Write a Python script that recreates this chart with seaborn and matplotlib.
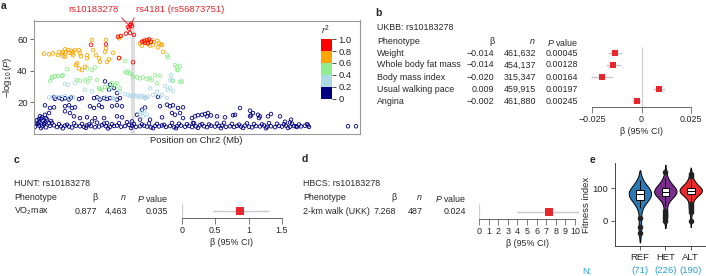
import numpy as np
import pandas as pd
import matplotlib
matplotlib.use('Agg')
import matplotlib.pyplot as plt
import matplotlib.cm as cm
from matplotlib.colors import ListedColormap, BoundaryNorm
import seaborn as sns

sns.set_style('ticks')
plt.rcParams['font.family'] = ['Liberation Sans', 'DejaVu Sans']
plt.rcParams['mathtext.fontset'] = 'custom'
plt.rcParams['mathtext.rm'] = 'Liberation Sans'
plt.rcParams['mathtext.it'] = 'Liberation Sans:italic'
plt.rcParams['mathtext.bf'] = 'Liberation Sans:bold'

# ---------------- data: panel a (position in kb, -log10 P) ----------------
ld_bins = ['0-0.2', '0.2-0.4', '0.4-0.6', '0.6-0.8', '0.8-1.0']
ld_colors = ['#000080', '#add8e6', '#90ee90', '#ffa500', '#ff0000']
r2_bounds = [0, 0.2, 0.4, 0.6, 0.8, 1.0]
r2_ticklabels = ['0', '0.2', '0.4', '0.6', '0.8', '1.0']

snps_r2_hi = [(27694, 67.6), (27696, 68.9), (27697, 69.5), (27698, 68.3), (27695, 66.5), (27696, 63.8),
              (27700, 62.7), (27687, 62.0), (27692, 63.5), (27684, 61.5), (27699, 45.3), (27672, 56.6),
              (27657, 56.4), (27708, 58.3), (27710, 59.0), (27713, 59.4), (27715, 59.8), (27717, 58.3),
              (27714, 57.3), (27711, 57.7), (27685, 48.0)]
snps_r2_06 = [(27610, 50.7), (27615, 50.3), (27619, 50.9), (27624, 49.8), (27625, 51.6), (27628, 50.9),
              (27629, 51.9), (27631, 53.5), (27632, 51.9), (27634, 53.0), (27635, 51.3), (27637, 52.6),
              (27638, 50.9), (27639, 51.9), (27641, 53.0), (27639, 49.8), (27629, 49.2), (27631, 48.8),
              (27645, 53.0), (27646, 50.9), (27647, 49.2), (27643, 44.6), (27642, 43.5), (27645, 41.4),
              (27648, 40.3), (27651, 42.4), (27653, 47.8), (27653, 49.8), (27659, 53.0), (27658, 59.4),
              (27662, 49.8), (27665, 47.8), (27666, 45.6), (27672, 59.4), (27672, 54.1), (27671, 51.9),
              (27673, 45.6), (27675, 47.1), (27679, 51.3), (27685, 60.5), (27686, 61.5), (27685, 47.8),
              (27706, 57.3), (27709, 57.9), (27711, 58.9), (27713, 57.3), (27715, 58.3), (27718, 59.4),
              (27720, 57.9), (27723, 58.9), (27725, 57.3), (27728, 56.2), (27729, 51.9), (27724, 54.7),
              (27719, 56.2), (27716, 55.8), (27708, 55.8), (27727, 56.6)]
snps_r2_04 = [(27616, 33.3), (27618, 36.0), (27621, 36.5), (27624, 36.5), (27628, 36.5), (27629, 37.1),
              (27643, 34.0), (27646, 33.5), (27651, 34.0), (27633, 40.8), (27653, 41.4), (27658, 40.3),
              (27654, 32.9), (27663, 34.0), (27666, 28.1), (27671, 29.7), (27676, 29.3), (27679, 30.2),
              (27683, 31.9), (27686, 28.7), (27691, 46.0), (27691, 39.2), (27693, 38.6), (27694, 39.5),
              (27696, 38.2), (27698, 37.5), (27699, 36.0), (27703, 35.7), (27706, 35.0), (27709, 35.7),
              (27713, 34.6), (27718, 34.0), (27721, 37.1), (27723, 31.9), (27733, 49.8), (27734, 48.4),
              (27741, 43.5), (27743, 42.4), (27744, 40.3), (27746, 32.9), (27748, 33.1), (27739, 33.3),
              (27726, 36.7), (27716, 35.2), (27743, 40.5), (27746, 42.7), (27618, 35.2), (27621, 36.3),
              (27656, 35.2), (27665, 28.9), (27668, 27.8), (27678, 32.1), (27681, 31.0), (27661, 42.0)]
snps_r2_02 = [(27615, 23.0), (27619, 23.5), (27623, 22.8), (27627, 23.3), (27631, 23.8), (27635, 22.5),
              (27639, 23.0), (27641, 32.3), (27634, 30.8), (27631, 31.5), (27666, 22.4), (27672, 23.0),
              (27679, 22.6), (27676, 27.6), (27686, 26.5), (27694, 24.5), (27696, 24.0), (27698, 23.5),
              (27700, 24.5), (27702, 23.5), (27704, 24.0), (27706, 23.0), (27708, 24.0), (27710, 23.3),
              (27712, 22.7), (27714, 23.5), (27716, 28.7), (27723, 26.5), (27726, 23.4), (27733, 22.5),
              (27734, 27.6), (27736, 34.0), (27737, 37.1), (27738, 34.2), (27731, 30.0), (27736, 28.9),
              (27739, 26.8), (27711, 22.5), (27719, 24.6), (27728, 24.6), (27706, 12.8), (27709, 10.9),
              (27713, 12.0), (27708, 13.5), (27710, 14.5), (27651, 27.8), (27658, 26.8), (27680, 21.9),
              (27691, 25.0)]
snps_r2_00 = [(27671, 33.1), (27676, 31.0), (27680, 28.9), (27675, 27.8), (27683, 25.7),
              (27620, 23.0), (27621, 22.0), (27625, 22.6), (27628, 21.8), (27631, 22.4), (27635, 21.6), (27637, 22.8),
              (27645, 21.9), (27648, 22.5), (27660, 22.5), (27663, 23.0), (27666, 21.5), (27670, 22.5), (27673, 21.9),
              (27676, 22.5), (27683, 21.5), (27686, 22.5),
              (27611, 17.9), (27616, 16.2), (27620, 16.6), (27631, 17.3), (27635, 17.9), (27638, 16.2), (27641, 16.6),
              (27656, 17.3), (27660, 16.2), (27665, 17.9), (27668, 16.8), (27678, 17.3), (27683, 17.9), (27688, 17.3),
              (27631, 14.1), (27636, 13.0), (27640, 10.9), (27646, 9.8), (27653, 10.3), (27661, 9.8), (27670, 9.8),
              (27683, 10.9), (27688, 10.3),
              (27608, 10.3), (27611, 11.9), (27615, 13.0), (27605, 9.2), (27603, 8.5), (27605, 7.0), (27607, 9.5),
              (27609, 8.0), (27611, 7.0), (27613, 9.0), (27615, 6.5), (27617, 8.0), (27604, 6.2), (27610, 6.5),
              (27606, 11.0), (27612, 9.8),
              (27658, 7.7), (27673, 6.7), (27698, 7.7), (27706, 8.8), (27703, 11.9),
              (27726, 17.3), (27733, 18.3), (27736, 17.3), (27739, 17.9), (27744, 16.2), (27749, 16.6), (27724, 23.2),
              (27708, 15.1), (27711, 16.5),
              (27738, 13.0), (27741, 11.9), (27746, 13.0), (27749, 9.8), (27728, 10.3), (27716, 8.8), (27758, 9.8),
              (27761, 10.9), (27764, 11.6), (27768, 11.9), (27771, 12.4), (27774, 13.0), (27773, 10.9), (27777, 11.5),
              (27783, 10.9), (27791, 10.3), (27799, 11.6), (27806, 16.2), (27801, 11.9), (27816, 10.9), (27759, 6.7),
              (27816, 14.5), (27819, 13.0), (27817, 11.5), (27824, 11.9), (27826, 10.9), (27825, 9.8), (27834, 10.9),
              (27837, 12.4), (27846, 10.9), (27857, 8.8), (27851, 7.5), (27856, 7.0), (27862, 4.6), (27874, 5.2),
              (27914, 4.6), (27922, 4.6),
              (27601, 4.3), (27605, 5.0), (27608, 4.6), (27612, 3.9), (27616, 4.8), (27620, 5.2), (27623, 4.1),
              (27627, 4.5), (27631, 5.0), (27635, 4.4), (27638, 3.8), (27642, 4.9), (27646, 4.6), (27650, 4.2),
              (27653, 5.1), (27657, 4.7), (27661, 4.0), (27665, 4.4), (27668, 5.3), (27672, 4.6), (27676, 4.1),
              (27680, 4.8), (27683, 5.0), (27687, 4.3), (27691, 4.7), (27695, 5.5), (27698, 4.9), (27702, 4.2),
              (27706, 4.6), (27710, 5.0), (27713, 4.4), (27717, 3.9), (27721, 4.8), (27725, 4.5), (27728, 5.1),
              (27732, 4.2), (27736, 4.7), (27740, 4.0), (27743, 4.6), (27747, 5.0), (27751, 4.3), (27755, 4.8),
              (27758, 4.1), (27762, 4.5), (27766, 5.2), (27770, 4.6), (27773, 4.0), (27777, 4.9), (27781, 4.4),
              (27785, 4.7), (27788, 5.0), (27792, 4.2), (27796, 4.6), (27800, 4.1), (27803, 4.8), (27807, 4.4),
              (27811, 5.0), (27815, 4.3), (27818, 3.9), (27822, 4.7), (27826, 4.5), (27830, 5.1), (27833, 4.2),
              (27837, 4.6), (27841, 4.0), (27845, 4.8), (27848, 4.4), (27852, 5.0), (27856, 4.3), (27860, 4.7),
              (27863, 4.1), (27867, 4.5), (27871, 4.9), (27875, 4.2),
              (27603, 6.2), (27610, 5.8), (27618, 6.8), (27625, 6.0), (27633, 5.6), (27640, 6.5), (27648, 6.1),
              (27655, 5.7), (27663, 6.9), (27670, 6.3), (27678, 5.9), (27685, 6.6), (27693, 7.2), (27700, 6.0),
              (27708, 5.8), (27715, 6.4), (27723, 6.1), (27730, 5.5), (27738, 6.7), (27745, 6.2), (27753, 5.9),
              (27760, 6.5), (27768, 6.0), (27775, 5.7), (27783, 6.3), (27790, 6.8), (27798, 6.1), (27805, 5.6),
              (27813, 6.4), (27820, 6.0), (27828, 5.8), (27835, 6.6), (27843, 6.2), (27850, 5.9), (27858, 6.3),
              (27865, 5.7), (27873, 6.0),
              (27607, 3.4), (27629, 3.3), (27652, 3.6), (27674, 3.2), (27697, 3.5), (27719, 3.4), (27742, 3.3),
              (27764, 3.6), (27787, 3.4), (27809, 3.5), (27832, 3.3), (27854, 3.5)]
lead_snp_kb = (27696, 68.9)
lead_band_kb = (27697, 27701)

# ---------------- data: panel b ----------------
b_title = 'UKBB: rs10183278'
b_pheno = ['Weight', 'Whole body fat mass', 'Body mass index', 'Usual walking pace', 'Angina']
b_beta = [-0.0134, -0.0142, -0.0198, 0.0088, -0.0024]
b_beta_txt = ['\u22120.014', '\u22120.014', '\u22120.020', '0.009', '\u22120.002']
b_n = ['461,632', '454,137', '315,347', '459,915', '461,880']
b_p = ['0.00045', '0.00128', '0.00164', '0.00197', '0.00245']
b_lo = [-0.0170, -0.0180, -0.0255, 0.0058, -0.0050]
b_hi = [-0.0100, -0.0102, -0.0145, 0.0118, -0.0003]
b_ticks = [-0.025, 0, 0.025]
b_ticklabels = ['\u22120.025', '0', '0.025']

# ---------------- data: panel c ----------------
c_title = 'HUNT: rs10183278'
c_pheno = ['VO$_2$max']
c_beta = [0.877]
c_beta_txt = ['0.877']
c_n = ['4,463']
c_p = ['0.035']
c_lo = [0.47]
c_hi = [1.30]
c_ticks = [0, 0.5, 1, 1.5]
c_ticklabels = ['0', '0.5', '1', '1.5']

# ---------------- data: panel d ----------------
d_title = 'HBCS: rs10183278'
d_pheno = ['2-km walk (UKK)']
d_beta = [7.268]
d_beta_txt = ['7.268']
d_n = ['487']
d_p = ['0.024']
d_lo = [3.95]
d_hi = [10.45]
d_ticks = [0, 1, 2, 3, 4, 5, 6, 7, 8, 9, 10]
d_ticklabels = [str(t) for t in d_ticks]

# ---------------- data: panel e ----------------
e_groups = ['REF', 'HET', 'ALT']
e_counts = ['(71)', '(226)', '(190)']
e_colors = ['#2a7ab8', '#7b2d8e', '#ee2a2a']
fit_ref = [-38, -18, 8, 39, 50, 58, 63, 66, 68, 71, 74, 77, 79, 81, 82, 83, 85, 87, 89, 91, 93,
           95, 97, 99, 104, 110, 118, 127]
fit_het = [0, 8, 15, 22, 29, 44, 55, 62, 67, 71, 74, 76, 78, 79, 81, 82, 83, 84, 85, 86, 87, 88,
           89, 90, 91, 92, 93, 94, 95, 96, 98, 99, 100, 102, 104, 106, 108, 111, 114, 118, 122, 127,
           133, 150]
fit_alt = [0, 28, 34, 40, 46, 52, 62, 70, 75, 78, 81, 83, 84, 85, 86, 87, 88, 89, 90, 91, 91, 92,
           92, 93, 94, 95, 96, 97, 98, 99, 100, 100, 101, 102, 104, 106, 109, 112, 116, 120, 124,
           127, 137, 144]

# ---------------- layout helpers ----------------
W, H = 706, 276
fig = plt.figure(figsize=(W / 100, H / 100), dpi=100)


def rect(l, t, r, b):
    return [l / W, 1 - b / H, (r - l) / W, (b - t) / H]


def fxy(x, y):
    return (x / W, 1 - y / H)


FS = 6.4
FA = 6.8
RED = '#e8262d'
CI_GREY = '#c8c8c8'

# ---------------- panel a ----------------
axA = fig.add_axes(rect(34, 20.5, 359.5, 133.5))
groups = [snps_r2_00, snps_r2_02, snps_r2_04, snps_r2_06, snps_r2_hi]
rows = []
for lbl, pts in zip(ld_bins, groups):
    for kb, lp in pts:
        rows.append((kb / 1000.0, lp, lbl))
dfA = pd.DataFrame(rows, columns=['pos', 'logp', 'r2'])
axA.axvspan(lead_band_kb[0] / 1000.0, lead_band_kb[1] / 1000.0, color='#dedede', lw=0, zorder=0)
sns.scatterplot(data=dfA, x='pos', y='logp', hue='r2', hue_order=ld_bins, palette=ld_colors,
                s=6.5, linewidth=0.6, legend=False, ax=axA, zorder=2)
coll = axA.collections[-1]
fc = coll.get_facecolors()
coll.set_edgecolors(fc)
coll.set_facecolors('none')
axA.set_xlim(27.600, 27.9255)
axA.set_ylim(0, 71.8)
axA.set_xticks([])
axA.set_yticks([20, 40, 60])
axA.tick_params(axis='y', labelsize=FA, length=3, width=0.6, pad=1.5, color='#555555')
for s in axA.spines.values():
    s.set_color('#999999')
    s.set_linewidth(0.8)
axA.set_xlabel('Position on Chr2 (Mb)', fontsize=FA, labelpad=2)
axA.set_ylabel(r'$-\log_{10}(P)$', fontsize=FA, labelpad=2)

lx, ly = lead_snp_kb
axA.annotate('rs10183278', xy=(lx / 1000.0 - 0.0015, ly), xytext=fxy(93.5, 10),
             textcoords='figure fraction', ha='center', va='center', color=RED, fontsize=FA,
             annotation_clip=False,
             arrowprops=dict(arrowstyle='-', color=RED, lw=0.7, shrinkA=0, shrinkB=1, relpos=(1, 0)))
axA.annotate('rs4181 (rs56873751)', xy=(lx / 1000.0 + 0.0005, ly), xytext=fxy(180, 10),
             textcoords='figure fraction', ha='center', va='center', color=RED, fontsize=FA,
             annotation_clip=False,
             arrowprops=dict(arrowstyle='-', color=RED, lw=0.7, shrinkA=0, shrinkB=1, relpos=(0, 0)))

cax = fig.add_axes(rect(321, 39, 332, 99))
cmap = ListedColormap(ld_colors)
norm = BoundaryNorm(r2_bounds, cmap.N)
cb = fig.colorbar(cm.ScalarMappable(norm=norm, cmap=cmap), cax=cax, ticks=r2_bounds)
cb.ax.set_yticklabels(r2_ticklabels, fontsize=FA)
cb.outline.set_visible(False)
cb.ax.tick_params(length=3, width=0.6, pad=1.5, color='#333333')
fig.text(*fxy(326, 30), '$r^2$', fontsize=FA, ha='center', va='center')


# ---------------- forest helper ----------------
def forest(box, betas, lo, hi, ticks, ticklabels, xlim, msize):
    ax = fig.add_axes(rect(*box))
    n = len(betas)
    df = pd.DataFrame({'beta': betas, 'row': list(range(n))})
    ax.axvline(0, color='#cfcfcf', lw=0.9, zorder=0)
    ax.hlines(list(range(n)), lo, hi, color=CI_GREY, lw=1.0, zorder=1, clip_on=False)
    sns.scatterplot(data=df, x='beta', y='row', marker='s', color=RED, s=msize, linewidth=0,
                    ax=ax, zorder=3, clip_on=False)
    ax.set_xlim(*xlim)
    ax.set_ylim(n - 0.5, -0.5)
    ax.set_yticks([])
    ax.set_xticks(ticks)
    ax.set_xticklabels(ticklabels)
    ax.tick_params(axis='x', labelsize=FS, length=4, width=0.6, pad=2, color='#666666')
    for k in ['top', 'right', 'left']:
        ax.spines[k].set_visible(False)
    ax.spines['bottom'].set_color('#666666')
    ax.spines['bottom'].set_linewidth(0.7)
    ax.set_xlabel('\u03b2 (95% CI)', fontsize=FS, labelpad=2)
    ax.set_ylabel('')
    ax.patch.set_alpha(0)
    return ax


def table(x0, title, ty, hy, cols, pheno, beta_txt, ns, ps, row_y, dy):
    xb, xn, xp = cols
    fig.text(*fxy(x0, ty), title, fontsize=FS, va='center')
    fig.text(*fxy(x0, hy), 'Phenotype', fontsize=FS, va='center')
    fig.text(*fxy(xb, hy), '\u03b2', fontsize=FS, va='center', ha='right')
    fig.text(*fxy(xn, hy), '$n$', fontsize=FS, va='center', ha='right')
    fig.text(*fxy(xp, hy), '$P$ value', fontsize=FS, va='center', ha='right')
    for i in range(len(pheno)):
        y = row_y + dy * i
        fig.text(*fxy(x0, y), pheno[i], fontsize=FS, va='center')
        fig.text(*fxy(xb, y), beta_txt[i], fontsize=FS, va='center', ha='right')
        fig.text(*fxy(xn, y), ns[i], fontsize=FS, va='center', ha='right')
        fig.text(*fxy(xp, y), ps[i], fontsize=FS, va='center', ha='right')


# ---------------- panel b ----------------
table(377, b_title, 27, 42, (494, 536, 578), b_pheno, b_beta_txt, b_n, b_p, 53, 12)
forest((592, 47, 691, 107), b_beta, b_lo, b_hi, b_ticks, b_ticklabels, (-0.025, 0.025), 24)

# ---------------- panel c ----------------
table(14, c_title, 184, 198, (97, 127, 168), c_pheno, c_beta_txt, c_n, c_p, 211, 12)
forest((182, 204, 282, 218), c_beta, c_lo, c_hi, c_ticks, c_ticklabels, (0, 1.5), 28)

# ---------------- panel d ----------------
table(303, d_title, 184, 198, (396, 423, 466), d_pheno, d_beta_txt, d_n, d_p, 211, 12)
forest((479, 204, 575, 219), d_beta, d_lo, d_hi, d_ticks, d_ticklabels, (0, 10), 30)

# ---------------- panel e ----------------
axE = fig.add_axes(rect(615, 163, 706, 246))
dfE = pd.DataFrame({
    'genotype': ['REF'] * len(fit_ref) + ['HET'] * len(fit_het) + ['ALT'] * len(fit_alt),
    'fitness': fit_ref + fit_het + fit_alt,
})
sns.violinplot(data=dfE, x='genotype', y='fitness', hue='genotype', order=e_groups,
               hue_order=e_groups, palette=e_colors, inner=None, density_norm='area',
               width=0.88, linewidth=0.7, linecolor='black', saturation=1, legend=False,
               cut=1.5, ax=axE)
sns.boxplot(data=dfE, x='genotype', y='fitness', order=e_groups, width=0.3, color='white',
            linecolor='black', linewidth=0.7, fliersize=3.0, saturation=1, showcaps=False,
            flierprops=dict(marker='o', markerfacecolor='#222222', markeredgecolor='#222222'),
            ax=axE)
axE.set_xlim(-0.98, 2.6)
axE.set_ylim(-78, 178)
axE.set_yticks([0, 100])
axE.set_xlabel('')
axE.set_ylabel('Fitness index', fontsize=FA, labelpad=1)
axE.tick_params(labelsize=FA, length=3, width=0.6, pad=2, color='#444444')
for k in ['top', 'right']:
    axE.spines[k].set_visible(False)
for k in ['left', 'bottom']:
    axE.spines[k].set_color('#444444')
    axE.spines[k].set_linewidth(0.7)
NCOL = '#2aa0d2'
for i, c in enumerate(e_counts):
    axE.text(i, -0.30, c, transform=axE.get_xaxis_transform(), ha='center', va='center',
             fontsize=FA, color=NCOL)
fig.text(*fxy(587, 271), 'N:', fontsize=FA, color=NCOL, ha='center', va='center')

# ---------------- panel letters ----------------
for lab, (x, y) in zip(['a', 'b', 'c', 'd', 'e'],
                       [(4, 6), (378, 13), (16, 160), (305, 159), (593, 160)]):
    fig.text(*fxy(x, y), lab, fontsize=7.5, fontweight='bold', ha='center', va='center')

fig.savefig('out.png', dpi=100)
